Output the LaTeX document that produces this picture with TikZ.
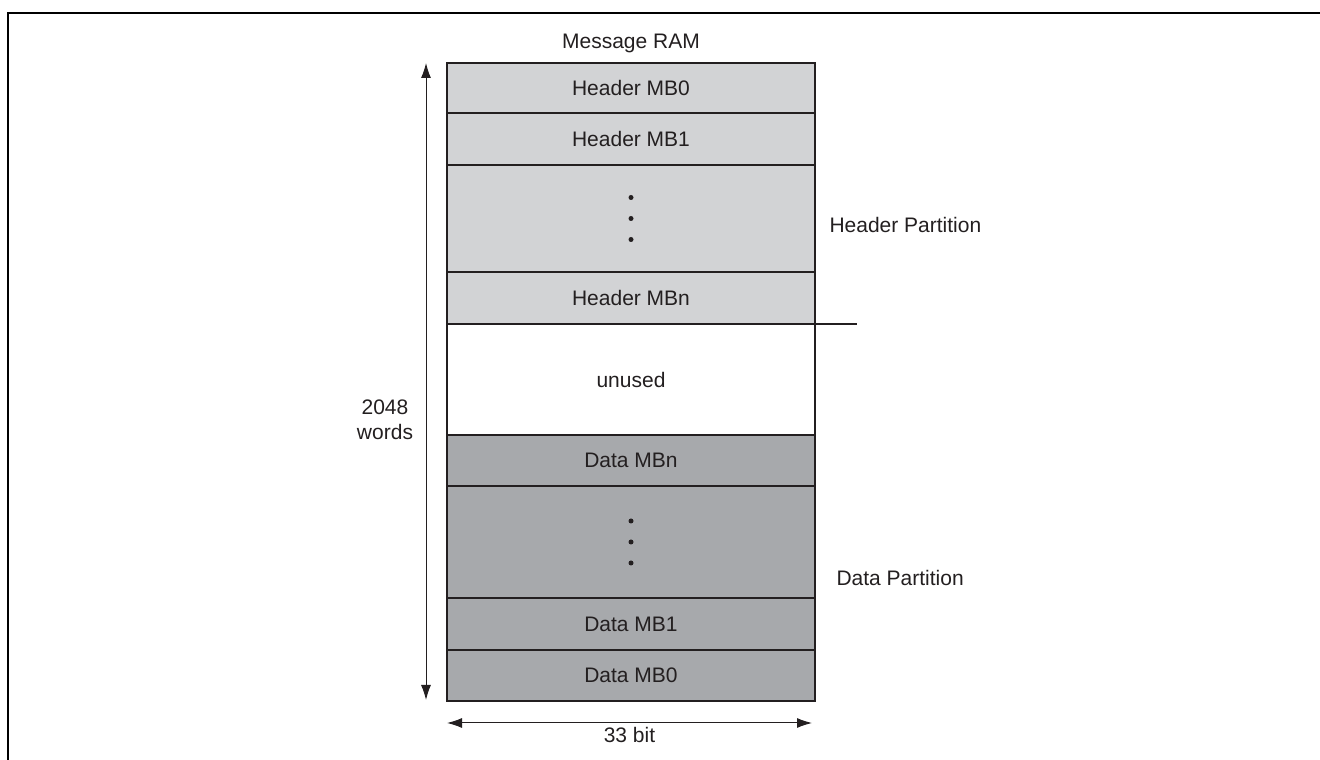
\documentclass[tikz,border=0pt]{standalone}
\usepackage{fontspec}
\setmainfont{Liberation Sans}
\usepackage{tikz}
\usetikzlibrary{
  arrows.meta,
  positioning,
  calc
}
\definecolor{headerfill}{RGB}{210, 211, 213}
\definecolor{datafill}{RGB}{167, 169, 172}
\definecolor{linecolor}{RGB}{35, 31, 32}
\definecolor{textcolor}{RGB}{35, 31, 32}

\begin{document}
\begin{tikzpicture}[
    x=1pt, y=1pt,
    % Estilos
    node distance=0pt,
    % Bloco base da memoria
    ramblock/.style={
        rectangle,
        draw=linecolor,
        line width=1.6pt,
        minimum width=368pt,
        outer sep=0pt,
        align=center,
        font=\fontsize{21}{25}\selectfont,
        text=textcolor
    },
    headerblock/.style={ramblock, fill=headerfill},
    datablock/.style={ramblock, fill=datafill},
    freeblock/.style={ramblock, fill=white},
    % Rotulos
    ramlabel/.style={
        font=\fontsize{21}{25}\selectfont,
        text=textcolor,
        align=center
    },
    % Seta de cota
    dimarrow/.style={
        {Latex[length=15pt,width=10pt]}-{Latex[length=15pt,width=10pt]},
        line width=1pt,
        draw=linecolor
    },
    % Pontos
    vdot/.style={
        circle,
        fill=linecolor,
        inner sep=0pt,
        minimum size=5pt
    },
]

% ============================================================================
% Area e moldura
% ============================================================================

\useasboundingbox (0,0) rectangle (1320,760);
\draw[line width=2.6pt] (8,-10) -- (8,747) -- (1330,747);

% ============================================================================
% Header Partition
% ============================================================================

\node[headerblock, minimum height=50pt] (mb0) at (631,672) {Header MB0};
\node[headerblock, minimum height=52pt, below=of mb0] (mb1) {Header MB1};
\node[headerblock, minimum height=107pt, below=of mb1] (hdots) {};
\node[headerblock, minimum height=52pt, below=of hdots] (mbn) {Header MBn};

% ============================================================================
% Area livre
% ============================================================================

\node[freeblock, minimum height=111pt, below=of mbn] (unused) {unused};

% ============================================================================
% Data Partition
% ============================================================================

\node[datablock, minimum height=51pt, below=of unused] (dmbn) {Data MBn};
\node[datablock, minimum height=112pt, below=of dmbn] (ddots) {};
\node[datablock, minimum height=52pt, below=of ddots] (dmb1) {Data MB1};
\node[datablock, minimum height=51pt, below=of dmb1] (dmb0) {Data MB0};

% Pontos verticais
\node[vdot] (hdot1) at ($(hdots.center)+(0,21)$) {};
\node[vdot] (hdot2) at (hdots.center) {};
\node[vdot] (hdot3) at ($(hdots.center)+(0,-21)$) {};
\node[vdot] (ddot1) at ($(ddots.center)+(0,21)$) {};
\node[vdot] (ddot2) at (ddots.center) {};
\node[vdot] (ddot3) at ($(ddots.center)+(0,-21)$) {};

% ============================================================================
% Rotulos
% ============================================================================

\node[ramlabel, above=7pt of mb0] (ramtitle) {Message RAM};
\node[ramlabel, anchor=west] (hpart) at ($(hdots.east)+(11,-7)$) {Header Partition};
\node[ramlabel, anchor=west] (dpart) at ($(ddots.east)+(18,-36)$) {Data Partition};

% Divisao entre particoes
\coordinate (splitend) at ($(mbn.south east)+(42,0)$);
\draw[line width=1.6pt, draw=linecolor] (mbn.south east) -- (splitend);

% ============================================================================
% Cotas
% ============================================================================

% Altura
\coordinate (htop) at ($(mb0.north west)+(-21,0)$);
\coordinate (hbot) at ($(dmb0.south west)+(-21,1)$);
\draw[dimarrow] (htop) -- (hbot);
\node[ramlabel] (words) at ($(unused.west)+(-62,-40)$) {2048\\words};

% Largura
\coordinate (wleft) at ($(dmb0.south west)+(0,-22)$);
\coordinate (wright) at ($(dmb0.south east)+(-3,-22)$);
\draw[dimarrow] (wleft) -- (wright);
\node[ramlabel, below=1pt of $(wleft)!0.5!(wright)$] (bits) {33 bit};

\end{tikzpicture}
\end{document}
